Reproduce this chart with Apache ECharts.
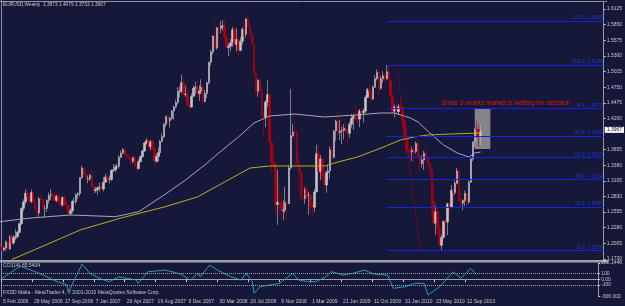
<!DOCTYPE html>
<html>
<head>
<meta charset="utf-8">
<script src="https://cdn.jsdelivr.net/npm/echarts@6/dist/echarts.min.js"></script>
<style>
html, body { margin: 0; padding: 0; background: #151838; }
#chart { width: 625px; height: 306px; }
</style>
</head>
<body>
<div id="chart"></div>
<script>
// weekly EURUSD bars, first week = 5 Feb 2006; each row [open, close, low, high]
var startDate = Date.UTC(2006, 1, 5);
var totalSlots = 310;   // bars + empty space on the right
var ohlc = [
  // 2006
  [1.2020,1.1920,1.1900,1.2050],[1.1920,1.1890,1.1865,1.1960],[1.1890,1.1925,1.1860,1.1950],[1.1925,1.2030,1.1880,1.2060],
  [1.2030,1.1905,1.1900,1.2040],[1.1905,1.2130,1.1890,1.2150],[1.2130,1.2010,1.1990,1.2180],[1.2010,1.2110,1.1980,1.2150],
  [1.2110,1.2125,1.2060,1.2260],[1.2125,1.2200,1.2090,1.2230],[1.2200,1.2350,1.2180,1.2380],[1.2350,1.2620,1.2330,1.2640],
  [1.2620,1.2735,1.2570,1.2780],[1.2735,1.2885,1.2690,1.2950],[1.2885,1.2830,1.2760,1.2980],[1.2830,1.2740,1.2690,1.2910],
  [1.2740,1.2900,1.2710,1.2950],[1.2900,1.2750,1.2700,1.2930],[1.2750,1.2625,1.2560,1.2800],[1.2625,1.2540,1.2500,1.2680],
  [1.2540,1.2790,1.2460,1.2830],[1.2790,1.2775,1.2700,1.2860],[1.2775,1.2620,1.2580,1.2800],[1.2620,1.2620,1.2460,1.2680],
  [1.2620,1.2760,1.2560,1.2780],[1.2760,1.2850,1.2700,1.2900],[1.2850,1.2860,1.2770,1.2960],[1.2860,1.2850,1.2760,1.2920],
  [1.2850,1.2760,1.2740,1.2880],[1.2760,1.2830,1.2730,1.2860],[1.2830,1.2730,1.2710,1.2880],[1.2730,1.2680,1.2640,1.2760],
  [1.2680,1.2810,1.2650,1.2830],[1.2810,1.2680,1.2660,1.2840],[1.2680,1.2670,1.2600,1.2750],[1.2670,1.2530,1.2480,1.2690],
  [1.2530,1.2580,1.2490,1.2620],[1.2580,1.2740,1.2540,1.2770],[1.2740,1.2740,1.2710,1.2810],[1.2740,1.2860,1.2690,1.2890],
  [1.2860,1.2880,1.2790,1.2910],[1.2880,1.3160,1.2830,1.3170],[1.3160,1.3330,1.3140,1.3370],[1.3330,1.3220,1.3190,1.3350],
  [1.3220,1.3130,1.3100,1.3290],[1.3130,1.3140,1.3060,1.3200],[1.3140,1.3200,1.3100,1.3230],[1.3200,1.3000,1.2980,1.3290],
  // 2007
  [1.3000,1.2930,1.2870,1.3050],[1.2930,1.2950,1.2890,1.3000],[1.2950,1.2980,1.2860,1.3010],[1.2980,1.2990,1.2920,1.3070],
  [1.2990,1.2960,1.2940,1.3080],[1.2960,1.3080,1.2920,1.3170],[1.3080,1.3170,1.3070,1.3230],[1.3170,1.3130,1.3080,1.3260],
  [1.3130,1.3130,1.3060,1.3200],[1.3130,1.3290,1.3100,1.3300],[1.3290,1.3300,1.3260,1.3400],[1.3300,1.3350,1.3250,1.3390],
  [1.3350,1.3360,1.3300,1.3410],[1.3360,1.3520,1.3320,1.3550],[1.3520,1.3590,1.3500,1.3640],[1.3590,1.3650,1.3580,1.3680],
  [1.3650,1.3570,1.3540,1.3680],[1.3570,1.3520,1.3460,1.3600],[1.3520,1.3510,1.3470,1.3580],[1.3510,1.3450,1.3400,1.3520],
  [1.3450,1.3510,1.3410,1.3530],[1.3510,1.3360,1.3330,1.3560],[1.3360,1.3320,1.3270,1.3400],[1.3320,1.3440,1.3300,1.3480],
  [1.3440,1.3530,1.3430,1.3550],[1.3530,1.3630,1.3510,1.3650],[1.3630,1.3770,1.3610,1.3790],[1.3770,1.3810,1.3740,1.3850],
  [1.3810,1.3700,1.3640,1.3840],[1.3700,1.3790,1.3640,1.3820],[1.3790,1.3670,1.3660,1.3850],[1.3670,1.3450,1.3360,1.3690],
  [1.3450,1.3530,1.3420,1.3580],[1.3530,1.3600,1.3440,1.3690],[1.3600,1.3800,1.3560,1.3820],[1.3800,1.3880,1.3780,1.3940],
  [1.3880,1.4100,1.3860,1.4120],[1.4100,1.4230,1.4050,1.4250],[1.4230,1.4160,1.4100,1.4280],[1.4160,1.4200,1.4040,1.4230],
  [1.4200,1.4330,1.4180,1.4350],[1.4330,1.4400,1.4180,1.4430],[1.4400,1.4480,1.4380,1.4530],[1.4480,1.4670,1.4450,1.4750],
  [1.4670,1.4680,1.4570,1.4760],[1.4680,1.4830,1.4640,1.4970],[1.4830,1.4620,1.4580,1.4930],[1.4620,1.4630,1.4580,1.4780],
  [1.4630,1.4430,1.4420,1.4760],[1.4430,1.4400,1.4310,1.4450],[1.4400,1.4590,1.4390,1.4640],[1.4590,1.4730,1.4580,1.4780],
  // 2008
  [1.4730,1.4750,1.4620,1.4850],[1.4750,1.4640,1.4560,1.4880],[1.4640,1.4680,1.4510,1.4790],[1.4680,1.4750,1.4630,1.4890],
  [1.4750,1.4500,1.4440,1.4800],[1.4500,1.4640,1.4480,1.4700],[1.4640,1.4830,1.4560,1.4850],[1.4830,1.5190,1.4800,1.5200],
  [1.5190,1.5370,1.5130,1.5410],[1.5370,1.5650,1.5320,1.5660],[1.5650,1.5440,1.5400,1.5900],[1.5440,1.5790,1.5410,1.5810],
  [1.5790,1.5780,1.5480,1.5850],[1.5780,1.5810,1.5700,1.5910],[1.5810,1.5830,1.5740,1.5930],[1.5830,1.5630,1.5570,1.5920],
  [1.5630,1.5450,1.5420,1.5700],[1.5450,1.5470,1.5300,1.5520],[1.5470,1.5530,1.5380,1.5600],[1.5530,1.5760,1.5460,1.5810],
  [1.5760,1.5500,1.5460,1.5800],[1.5500,1.5590,1.5380,1.5790],[1.5590,1.5400,1.5300,1.5600],[1.5400,1.5560,1.5380,1.5630],
  [1.5560,1.5770,1.5500,1.5800],[1.5770,1.5680,1.5640,1.5910],[1.5680,1.5950,1.5620,1.5970],[1.5950,1.5830,1.5800,1.6040],
  [1.5830,1.5680,1.5600,1.5910],[1.5680,1.5500,1.5470,1.5700],[1.5500,1.5000,1.4960,1.5620],[1.5000,1.4680,1.4640,1.5030],
  [1.4680,1.4870,1.4580,1.4890],[1.4870,1.4680,1.4600,1.4900],[1.4680,1.4270,1.4200,1.4760],[1.4270,1.4220,1.3880,1.4300],
  [1.4220,1.4490,1.4050,1.4520],[1.4490,1.4620,1.4410,1.4870],[1.4620,1.3780,1.3760,1.4640],[1.3780,1.3420,1.3260,1.3790],
  [1.3420,1.3400,1.3330,1.3700],[1.3400,1.2690,1.2530,1.3440],[1.2690,1.2730,1.2330,1.3300],[1.2730,1.2720,1.2520,1.3080],
  [1.2720,1.2580,1.2430,1.2900],[1.2580,1.2590,1.2420,1.2760],[1.2590,1.2720,1.2540,1.3000],[1.2720,1.2700,1.2420,1.2800],
  [1.2700,1.3330,1.2700,1.3380],[1.3330,1.3900,1.3300,1.4720],[1.3900,1.3960,1.3870,1.4110],[1.3960,1.3950,1.3850,1.4160],
  // 2009
  [1.3950,1.3420,1.3380,1.4000],[1.3420,1.3250,1.2950,1.3520],[1.3250,1.2820,1.2750,1.3330],[1.2820,1.2800,1.2770,1.3250],
  [1.2800,1.2950,1.2700,1.2990],[1.2950,1.2850,1.2760,1.3040],[1.2850,1.2850,1.2510,1.2910],[1.2850,1.2660,1.2550,1.2920],
  [1.2660,1.2640,1.2460,1.2730],[1.2640,1.2910,1.2560,1.2960],[1.2910,1.3580,1.2900,1.3740],[1.3580,1.3270,1.3250,1.3740],
  [1.3270,1.3490,1.3120,1.3560],[1.3490,1.3180,1.3110,1.3500],[1.3180,1.3030,1.2970,1.3350],[1.3030,1.3250,1.2890,1.3280],
  [1.3250,1.3280,1.3130,1.3380],[1.3280,1.3650,1.3140,1.3710],[1.3650,1.3520,1.3490,1.3730],[1.3520,1.3980,1.3500,1.4000],
  [1.3980,1.4150,1.3810,1.4180],[1.4150,1.3950,1.3900,1.4340],[1.3950,1.3980,1.3820,1.4180],[1.3980,1.3990,1.3750,1.4060],
  [1.3990,1.4030,1.3830,1.4100],[1.4030,1.3960,1.3920,1.4200],[1.3960,1.3940,1.3740,1.4040],[1.3940,1.4100,1.3860,1.4150],
  [1.4100,1.4200,1.4040,1.4280],[1.4200,1.4250,1.4000,1.4270],[1.4250,1.4200,1.4150,1.4450],[1.4200,1.4190,1.4100,1.4350],
  [1.4190,1.4330,1.4050,1.4370],[1.4330,1.4300,1.4180,1.4400],[1.4300,1.4330,1.4130,1.4370],[1.4330,1.4570,1.4300,1.4610],
  [1.4570,1.4710,1.4560,1.4740],[1.4710,1.4680,1.4590,1.4800],[1.4680,1.4540,1.4480,1.4740],[1.4540,1.4750,1.4530,1.4790],
  [1.4750,1.4900,1.4740,1.4960],[1.4900,1.5010,1.4870,1.5060],[1.5010,1.4730,1.4580,1.5060],[1.4730,1.4900,1.4700,1.4950],
  [1.4900,1.4950,1.4830,1.5030],[1.4950,1.4900,1.4830,1.5010],[1.4900,1.5020,1.4880,1.5140],[1.5020,1.4870,1.4860,1.5140],
  [1.4870,1.4590,1.4580,1.4890],[1.4590,1.4330,1.4290,1.4630],[1.4330,1.4400,1.4220,1.4440],[1.4400,1.4320,1.4260,1.4510],
  // 2010
  [1.4320,1.4410,1.4260,1.4460],[1.4410,1.4380,1.4370,1.4580],[1.4380,1.4150,1.4030,1.4450],[1.4150,1.3860,1.3850,1.4190],
  [1.3860,1.3640,1.3580,1.4040],[1.3640,1.3630,1.3530,1.3800],[1.3630,1.3610,1.3440,1.3710],[1.3610,1.3640,1.3450,1.3700],
  [1.3640,1.3620,1.3440,1.3740],[1.3620,1.3760,1.3580,1.3800],[1.3760,1.3530,1.3510,1.3830],[1.3530,1.3410,1.3270,1.3580],
  [1.3410,1.3470,1.3340,1.3550],[1.3470,1.3590,1.3300,1.3630],[1.3590,1.3500,1.3450,1.3690],[1.3500,1.3410,1.3310,1.3500],
  [1.3410,1.3290,1.3110,1.3450],[1.3290,1.2740,1.2520,1.3330],[1.2740,1.2360,1.2350,1.3090],[1.2360,1.2560,1.2150,1.2670],
  [1.2560,1.2270,1.2140,1.2600],[1.2270,1.1970,1.1960,1.2350],[1.1970,1.2110,1.1880,1.2160],[1.2110,1.2390,1.2090,1.2410],
  [1.2390,1.2380,1.2160,1.2420],[1.2380,1.2700,1.2150,1.2720],[1.2700,1.2640,1.2510,1.2720],[1.2640,1.2940,1.2620,1.3030],
  [1.2940,1.2900,1.2720,1.2960],[1.2900,1.3060,1.2860,1.3110],[1.3060,1.3280,1.3040,1.3330],[1.3280,1.2760,1.2740,1.3290],
  [1.2760,1.2710,1.2650,1.2900],[1.2710,1.2760,1.2590,1.2780],[1.2760,1.2880,1.2660,1.2930],[1.2880,1.2730,1.2650,1.2880],
  [1.2730,1.3080,1.2700,1.3130],[1.3080,1.3490,1.3070,1.3510],[1.3490,1.3790,1.3450,1.3790],[1.3790,1.4010,1.3690,1.4030],
  [1.4010,1.4000,1.3860,1.4160],[1.4000,1.3873,1.3700,1.4100],[1.3873,1.3967,1.3733,1.4079]
];

// moving averages: [week index, price]
var maGray = [[0,1.2386],[16,1.2451],[36,1.2504],[59,1.2474],[71,1.2562],[84,1.2855],[95,1.3119],[106,1.3418],
  [112,1.3594],[122,1.3875],[130,1.4121],[138,1.4244],[151,1.4279],[166,1.4226],[182,1.4262],[195,1.4297],
  [202,1.4297],[210,1.4209],[214,1.4139],[220,1.3945],[227,1.3734],[234,1.3594],[240,1.3523],[243,1.3594],[246,1.3611]];
var maYellow = [[6,1.1720],[21,1.1941],[41,1.2240],[62,1.2451],[84,1.2644],[101,1.2820],[115,1.3084],[128,1.3330],
  [138,1.3365],[152,1.3365],[166,1.3365],[173,1.3435],[183,1.3523],[195,1.3681],[205,1.3822],[212,1.3875],
  [219,1.3910],[231,1.3928],[246,1.3945]];

// CCI(14): [week index, value]
var cciPoints = [[0,0],[10,234],[22,74],[27,-14],[34,-103],[35,-221],[42,269],[46,104],[51,16],[56,-44],[61,44],
  [70,-14],[71,-73],[76,133],[85,163],[93,92],[98,-14],[102,104],[103,44],[108,250],[112,163],[119,44],[124,-14],
  [127,104],[130,-44],[131,-250],[134,-133],[139,-103],[144,-73],[151,104],[154,-14],[159,-44],[163,-44],[168,44],
  [171,133],[177,74],[182,104],[188,163],[193,92],[200,74],[203,-161],[209,-133],[214,-73],[219,-73],[221,-280],
  [227,-133],[234,133],[238,16],[239,16],[243,193],[246,86]];
var cciLevels = [100, 0, -100];

var priceTicks = [1.6125,1.5850,1.5575,1.5300,1.5025,1.4750,1.4475,1.4200,1.3655,1.3380,1.3105,1.2830,1.2555,1.2280,1.2005,1.1730];
var cciTickValues = [288.1446, 100, 0, -100, -306];
var cciTickText = ['288.1446', '100', '0.00', '-100', '-306.000'];

// fibonacci retracement of the Nov 2009 high / Jun 2010 low
var fibNames = ['123.6', '100.0', '76.4', '61.8', '50.0', '38.2', '23.6', '0.0'];
var fibPrices = [1.5915, 1.5144, 1.4373, 1.3896, 1.3510, 1.3124, 1.2647, 1.1876];
var fibStart = 198;
var fibTrend = [[203, 1.5144], [215, 1.1876]];

var boxArea = [243, 251, 1.4367, 1.3664];   // x from, x to, top, bottom
var notePos = [226, 1.4473];
var noteText = 'Since 3 weeks market is waiting for decision';
var titleText = 'EURUSD,Weekly  1.3873 1.4079 1.3733 1.3967';
var cciText = 'CCI(14) 85.5404';
var footText = 'FXDD Malta - MetaTrader 4, \u00a9 2001-2010 MetaQuotes Software Corp.';

var monthNames = ['Jan','Feb','Mar','Apr','May','Jun','Jul','Aug','Sep','Oct','Nov','Dec'];
var weeks = [];
for (var i = 0; i < totalSlots; i++) {
    var d = new Date(startDate + i * 7 * 86400000);
    weeks.push(d.getUTCDate() + ' ' + monthNames[d.getUTCMonth()] + ' ' + d.getUTCFullYear());
}
var lastClose = ohlc[ohlc.length - 1][1];
function showWeek(index) {
    return index % 16 === 0 && index < ohlc.length;
}

var font = 'Liberation Sans';
var txt = '#c8c8cc';

var fibLines = fibPrices.map(function (p, k) {
    return [{coord: [fibStart, p], name: fibNames[k] + '  ' + p.toFixed(4)}, {coord: [totalSlots - 1, p]}];
});
fibLines.push([
    {coord: fibTrend[0], lineStyle: {type: 'dotted', color: '#a00010', width: 1}, label: {show: false}},
    {coord: fibTrend[1]}
]);

var myChart = echarts.init(document.getElementById('chart'));
var option = {
    backgroundColor: '#151838',
    animation: false,
    grid: [
        {left: 0, right: 18, top: 2, height: 258},
        {left: 0, right: 18, top: 263, height: 33.5}
    ],
    xAxis: [
        {type: 'category', gridIndex: 0, data: weeks, boundaryGap: false, show: false},
        {
            type: 'category', gridIndex: 1, data: weeks, boundaryGap: false,
            axisLine: {lineStyle: {color: '#9a9aa2', width: 1}},
            axisTick: {show: true, interval: showWeek, length: 3, lineStyle: {color: '#c8c8cc'}},
            axisLabel: {
                interval: showWeek, align: 'left', margin: 3, padding: [0, 0, 0, 2],
                color: txt, fontSize: 5, fontFamily: font,
                formatter: function (v, idx) { return idx < ohlc.length ? v : ''; }
            },
            splitLine: {show: false}
        }
    ],
    yAxis: [
        {
            type: 'value', gridIndex: 0, position: 'right', min: 1.17124, max: 1.6248,
            splitLine: {show: false},
            axisLine: {show: true, lineStyle: {color: '#9a9aa2'}},
            axisTick: {show: true, length: 2, customValues: priceTicks, lineStyle: {color: '#c8c8cc'}},
            axisLabel: {
                customValues: priceTicks, margin: 3, color: txt, fontSize: 5, fontFamily: font,
                formatter: function (v) { return v.toFixed(4); }
            }
        },
        {
            type: 'value', gridIndex: 1, position: 'right', min: -306, max: 288.1446,
            splitLine: {show: false},
            axisLine: {show: true, lineStyle: {color: '#9a9aa2'}},
            axisTick: {show: true, length: 2, customValues: cciTickValues, lineStyle: {color: '#c8c8cc'}},
            axisLabel: {
                customValues: cciTickValues, margin: 3, color: txt, fontSize: 5, fontFamily: font,
                formatter: function (v) {
                    var k = cciTickValues.indexOf(v);
                    return k >= 0 ? cciTickText[k] : '';
                }
            }
        }
    ],
    series: [
        {
            name: 'box', type: 'line', xAxisIndex: 0, yAxisIndex: 0, z: 0,
            data: [[boxArea[0], boxArea[2]]], symbol: 'none', lineStyle: {width: 0},
            markArea: {
                silent: true,
                itemStyle: {color: '#838389'},
                data: [[{coord: [boxArea[0], boxArea[2]]}, {coord: [boxArea[1], boxArea[3]]}]]
            }
        },
        {
            name: 'fib', type: 'line', xAxisIndex: 0, yAxisIndex: 0, z: 1,
            data: [[fibStart, fibPrices[0]]], symbol: 'none', lineStyle: {width: 0},
            markLine: {
                silent: true, symbol: ['none', 'none'],
                lineStyle: {type: 'solid', color: '#1024e0', width: 1.2, opacity: 1},
                label: {
                    show: true, position: 'insideEndTop', formatter: '{b}', distance: 1,
                    color: '#2238e0', fontSize: 5, fontFamily: font
                },
                emphasis: {disabled: true},
                data: fibLines
            }
        },
        {
            name: 'EURUSD', type: 'candlestick', xAxisIndex: 0, yAxisIndex: 0, z: 3,
            data: ohlc, barWidth: 2,
            itemStyle: {
                color: '#c4c4c8', color0: '#b4000e',
                borderColor: '#c4c4c8', borderColor0: '#b4000e', borderWidth: 0.6
            },
            markLine: {
                silent: true, symbol: ['none', 'none'],
                lineStyle: {color: 'rgba(0,0,0,0)', width: 0},
                label: {
                    show: true, position: 'end', distance: 1,
                    formatter: lastClose.toFixed(4), backgroundColor: '#ffffff',
                    color: '#000000', padding: [1, 2, 0, 2], fontSize: 5, fontFamily: font
                },
                data: [{yAxis: lastClose}]
            },
            markPoint: {
                silent: true, symbol: 'rect', symbolSize: 0,
                label: {
                    show: true, position: 'right', distance: 0,
                    formatter: noteText, color: '#e01818', fontSize: 6.6, fontFamily: font
                },
                data: [{coord: notePos}]
            }
        },
        {
            name: 'MA gray', type: 'line', xAxisIndex: 0, yAxisIndex: 0, z: 4,
            data: maGray, symbol: 'none', lineStyle: {color: '#a8a8bc', width: 1}
        },
        {
            name: 'MA yellow', type: 'line', xAxisIndex: 0, yAxisIndex: 0, z: 4,
            data: maYellow, symbol: 'none', lineStyle: {color: '#b8b020', width: 1}
        },
        {
            name: 'CCI', type: 'line', xAxisIndex: 1, yAxisIndex: 1,
            data: cciPoints, symbol: 'none', lineStyle: {color: '#2a9db4', width: 1},
            markLine: {
                silent: true, symbol: ['none', 'none'],
                lineStyle: {type: 'dotted', color: '#a0a0a8', width: 1},
                label: {show: false},
                data: cciLevels.map(function (v) { return {yAxis: v}; })
            }
        }
    ],
    graphic: [
        {type: 'line', shape: {x1: 0, y1: 1.5, x2: 607, y2: 1.5}, style: {stroke: '#8c90a8', lineWidth: 1}},
        {type: 'line', shape: {x1: 1.5, y1: 0, x2: 1.5, y2: 297}, style: {stroke: '#8c90a8', lineWidth: 1}},
        {type: 'rect', shape: {x: 0, y: 260, width: 607.5, height: 2.5}, style: {fill: '#a0a0a8'}},
        {type: 'text', x: 3, y: 2.5, style: {text: titleText, fill: txt, fontSize: 4.8, fontFamily: font}},
        {type: 'text', x: 3, y: 263, style: {text: cciText, fill: txt, fontSize: 5, fontFamily: font}},
        {type: 'text', x: 3, y: 290.5, style: {text: footText, fill: txt, fontSize: 5, fontFamily: font}}
    ]
};
myChart.setOption(option);
</script>
</body>
</html>
